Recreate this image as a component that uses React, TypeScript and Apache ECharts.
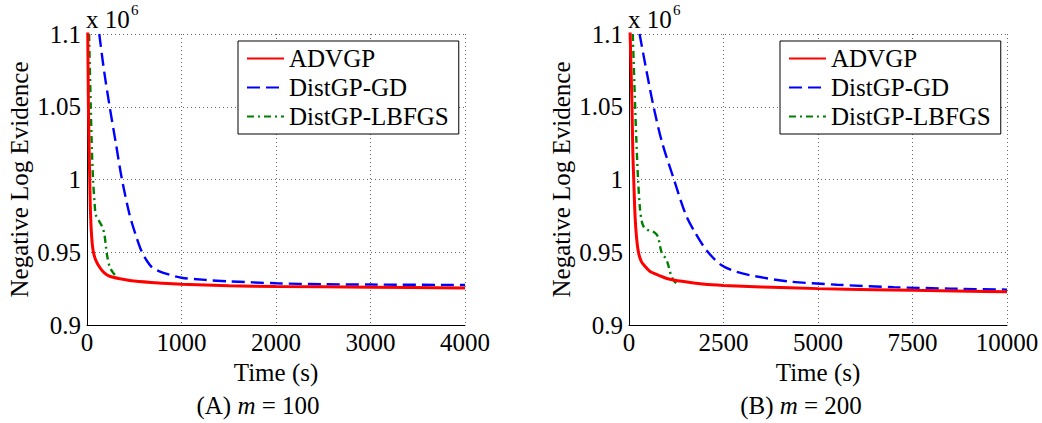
import React, { useEffect, useRef } from "react";
import * as echarts from "echarts";

// ---- Data (values in units of 10^6) ----
const seriesNames = ["ADVGP", "DistGP-GD", "DistGP-LBFGS"];

// Panel A: m = 100
const timeA_advgp = [0, 8, 15, 29, 38, 50, 65, 90, 130, 180, 240, 350, 500, 800, 1000, 1500, 2000, 3000, 4000];
const advgpA = [1.12, 1.1, 1.05, 1.0, 0.975, 0.96, 0.951, 0.945, 0.94, 0.936, 0.9335, 0.9318, 0.9302, 0.9287, 0.928, 0.927, 0.9265, 0.926, 0.9255];

const timeA_gd = [130, 180, 240, 305, 370, 450, 510, 575, 635, 690, 760, 875, 1000, 1250, 1500, 2000, 2500, 3000, 4000];
const gdA = [1.1, 1.075, 1.05, 1.025, 1.0, 0.976, 0.963, 0.951, 0.944, 0.9395, 0.937, 0.9345, 0.9325, 0.931, 0.93, 0.9287, 0.928, 0.9278, 0.9275];

const timeA_lbfgs = [22, 40, 52, 64, 80, 92, 115, 140, 165, 185, 200, 215, 240, 275, 310];
const lbfgsA = [1.1, 1.05, 1.02, 1.0, 0.984, 0.976, 0.973, 0.97, 0.967, 0.962, 0.954, 0.947, 0.94, 0.936, 0.9335];

// Panel B: m = 200
const timeB_advgp = [0, 30, 60, 80, 100, 125, 160, 200, 250, 320, 400, 550, 800, 1000, 1400, 2000, 2500, 3500, 5000, 6500, 7500, 9000, 10000];
const advgpB = [1.13, 1.1, 1.07, 1.05, 1.02, 1.0, 0.975, 0.96, 0.95, 0.944, 0.941, 0.937, 0.934, 0.932, 0.93, 0.928, 0.9272, 0.9262, 0.925, 0.9243, 0.9238, 0.9232, 0.9228];

const timeB_gd = [280, 460, 650, 880, 1190, 1500, 1760, 2060, 2450, 2850, 3350, 4200, 5500, 7000, 8500, 10000];
const gdB = [1.1, 1.075, 1.05, 1.025, 1.0, 0.976, 0.963, 0.951, 0.941, 0.9365, 0.9335, 0.93, 0.9277, 0.926, 0.925, 0.9243];

const timeB_lbfgs = [100, 150, 190, 240, 290, 340, 400, 480, 580, 680, 760, 800, 850, 900, 970, 1030, 1080, 1130, 1200, 1300];
const lbfgsB = [1.1, 1.06, 1.03, 1.0, 0.98, 0.971, 0.967, 0.9655, 0.9645, 0.9635, 0.961, 0.957, 0.951, 0.948, 0.946, 0.942, 0.937, 0.933, 0.93, 0.928];

const yTicks = { min: 0.9, max: 1.1, interval: 0.05 };
const xTicksA = { min: 0, max: 4000, interval: 1000 };
const xTicksB = { min: 0, max: 10000, interval: 2500 };
const captions = ["(A) ", "(B) "];
const captionValues = ["100", "200"];

const FONT = "'Liberation Serif', 'Times New Roman', serif";

function pairs(t: number[], v: number[]) {
  return t.map((x, i) => [x, v[i]]);
}

export default function App() {
  const ref = useRef<HTMLDivElement>(null);
  useEffect(() => {
    if (!ref.current) return;
    const chart = echarts.init(ref.current, undefined, { renderer: "svg" });

    const gridLefts = [87, 629];
    const gridW = 378;
    const xT = [xTicksA, xTicksB];

    const splitLine = { show: true, lineStyle: { color: "#666", type: [1, 3], width: 1 } };
    const axisLabel = { color: "#000", fontSize: 25, fontFamily: FONT, formatter: (v: number) => String(Math.round(v * 1000) / 1000) };

    const lineDefs = [
      { name: "DistGP-GD", color: "#0000ff", width: 2.4, type: [13, 6] as any },
      { name: "DistGP-LBFGS", color: "#008000", width: 2.4, type: [7, 4, 2, 4] as any },
      { name: "ADVGP", color: "#ff0000", width: 3, type: "solid" as any },
    ];
    const dataA: Record<string, number[][]> = {
      ADVGP: pairs(timeA_advgp, advgpA),
      "DistGP-GD": pairs(timeA_gd, gdA),
      "DistGP-LBFGS": pairs(timeA_lbfgs, lbfgsA),
    };
    const dataB: Record<string, number[][]> = {
      ADVGP: pairs(timeB_advgp, advgpB),
      "DistGP-GD": pairs(timeB_gd, gdB),
      "DistGP-LBFGS": pairs(timeB_lbfgs, lbfgsB),
    };

    const series: any[] = [];
    [dataA, dataB].forEach((d, gi) => {
      lineDefs.forEach((ld) => {
        series.push({
          type: "line",
          name: ld.name,
          xAxisIndex: gi,
          yAxisIndex: gi,
          data: d[ld.name],
          symbol: "none",
          smooth: 0.3,
          clip: true,
          lineStyle: { color: ld.color, width: ld.width, type: ld.type },
          itemStyle: { color: ld.color },
        });
      });
    });

    const graphics: any[] = [];
    gridLefts.forEach((gl, i) => {
      graphics.push({
        type: "text",
        style: { text: "x 10", x: gl - 1, y: 19.5, fill: "#000", font: `25px ${FONT}`, verticalAlign: "middle", align: "left" },
      });
      graphics.push({
        type: "text",
        style: { text: "6", x: gl + 44, y: 10, fill: "#000", font: `15px ${FONT}`, verticalAlign: "middle", align: "left" },
      });
      graphics.push({
        type: "text",
        style: {
          text: `{n|${captions[i]}}{i|m}{n| = ${captionValues[i]}}`,
          x: i === 0 ? 258 : 801,
          y: 405,
          align: "center",
          verticalAlign: "middle",
          rich: {
            n: { fontSize: 25, fontFamily: FONT, fill: "#000", color: "#000" },
            i: { fontSize: 25, fontFamily: FONT, fontStyle: "italic", fill: "#000", color: "#000" },
          },
        },
      });
    });

    chart.setOption({
      animation: false,
      backgroundColor: "#fff",
      grid: gridLefts.map((l) => ({ left: l, top: 34, width: gridW, height: 291, containLabel: false })),
      xAxis: gridLefts.map((_, i) => ({
        type: "value",
        gridIndex: i,
        min: xT[i].min,
        max: xT[i].max,
        interval: xT[i].interval,
        name: "Time (s)",
        nameLocation: "middle",
        nameGap: 30,
        nameTextStyle: { color: "#000", fontSize: 25, fontFamily: FONT },
        axisLine: { show: true, onZero: false, lineStyle: { color: "#000", width: 1 } },
        axisTick: { show: false },
        axisLabel: { ...axisLabel, margin: 5 },
        splitLine,
      })),
      yAxis: gridLefts.map((_, i) => ({
        type: "value",
        gridIndex: i,
        min: yTicks.min,
        max: yTicks.max,
        interval: yTicks.interval,
        name: "Negative Log Evidence",
        nameLocation: "middle",
        nameGap: 55,
        nameTextStyle: { color: "#000", fontSize: 25, fontFamily: FONT },
        axisLine: { show: true, onZero: false, lineStyle: { color: "#000", width: 1 } },
        axisTick: { show: false },
        axisLabel: { ...axisLabel, margin: 6 },
        splitLine,
      })),
      legend: [238, 780].map((l) => ({
        left: l,
        top: 41,
        orient: "vertical",
        data: seriesNames,
        itemWidth: 37,
        itemHeight: 14,
        itemGap: 4,
        padding: [5, 10, 5, 8],
        borderColor: "#000",
        borderWidth: 1,
        backgroundColor: "#fff",
        selectedMode: false,
        itemStyle: { opacity: 0 },
        textStyle: { color: "#000", fontSize: 25, fontFamily: FONT },
      })),
      series,
      graphic: graphics,
    });

    return () => chart.dispose();
  }, []);

  return (
    <div
      ref={ref}
      style={{ position: "absolute", left: 0, top: 0, width: 1042, height: 423 }}
    />
  );
}
